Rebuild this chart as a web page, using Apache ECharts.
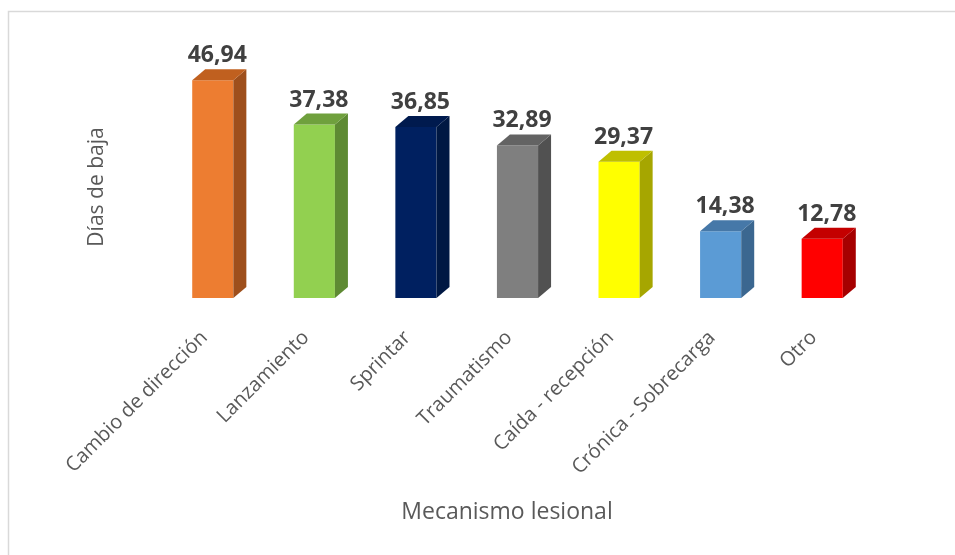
<!DOCTYPE html>
<html>
<head>
<meta charset="utf-8">
<script src="https://cdn.jsdelivr.net/npm/echarts@6/dist/echarts.min.js"></script>
<style>html,body{margin:0;padding:0;background:#fff;}#c{width:955px;height:555px;}</style>
</head>
<body>
<div id="c"></div>
<script>
var categories = ['Cambio de dirección', 'Lanzamiento', 'Sprintar', 'Traumatismo', 'Caída - recepción', 'Crónica - Sobrecarga', 'Otro'];
var values = [46.94, 37.38, 36.85, 32.89, 29.37, 14.38, 12.78];
var labels = ['46,94', '37,38', '36,85', '32,89', '29,37', '14,38', '12,78'];

var frontColors = ['#ED7D31', '#92D050', '#002060', '#7F7F7F', '#FFFF00', '#5B9BD5', '#FF0000'];
var sideColors  = ['#9E4F1C', '#5E8A33', '#001843', '#515151', '#A6A600', '#3B6790', '#A60000'];
var topColors   = ['#C0601F', '#6FA03D', '#001A4E', '#636363', '#BFBF00', '#4678A8', '#C40000'];

var FONT = '"Open Sans", "Noto Sans", sans-serif';
var chart = echarts.init(document.getElementById('c'), null, {renderer: 'canvas'});

function renderBar(params, api) {
  var i = api.value(0);
  var v = api.value(1);
  var top = api.coord([i, v]);
  var base = api.coord([i, 0]);
  var band = api.size([1, 0])[0];
  var w = band * 0.405;
  var dx = 13, dy = 11;
  var x0 = top[0] - w / 2, x1 = top[0] + w / 2;
  var yt = top[1], yb = base[1];
  return {
    type: 'group',
    children: [
      {type: 'rect', shape: {x: x0, y: yt, width: w, height: yb - yt}, style: {fill: frontColors[i]}},
      {type: 'polygon', shape: {points: [[x1, yt], [x1 + dx, yt - dy], [x1 + dx, yb - dy], [x1, yb]]}, style: {fill: sideColors[i]}},
      {type: 'polygon', shape: {points: [[x0, yt], [x0 + dx, yt - dy], [x1 + dx, yt - dy], [x1, yt]]}, style: {fill: topColors[i]}},
      {type: 'text', x: top[0] + dx / 2 - 2, y: yt - dy - 2,
        style: {text: labels[i], fill: '#404040', font: 'bold 23px ' + FONT, textAlign: 'center', textVerticalAlign: 'bottom'}}
    ]
  };
}

chart.setOption({
  animation: false,
  backgroundColor: '#fff',
  grid: {left: 162, width: 711, top: 66, height: 232},
  xAxis: {
    type: 'category',
    data: categories,
    axisLine: {show: false},
    axisTick: {show: false},
    axisLabel: {rotate: 45, interval: 0, margin: 28, padding: [0, 12, 0, 0], color: '#595959', fontSize: 20, fontFamily: FONT}
  },
  yAxis: {
    type: 'value', min: 0, max: 50,
    axisLine: {show: false}, axisTick: {show: false}, axisLabel: {show: false}, splitLine: {show: false}
  },
  series: [{
    type: 'custom',
    renderItem: renderBar,
    data: values.map(function (v, i) { return [i, v]; }),
    clip: false
  }],
  graphic: [
    {type: 'rect', shape: {x: 8.5, y: 11.5, width: 960, height: 560}, style: {fill: 'none', stroke: '#D9D9D9', lineWidth: 1.5}},
    {type: 'text', x: 507, y: 512, style: {text: 'Mecanismo lesional', fill: '#595959', font: '23px ' + FONT, textAlign: 'center', textVerticalAlign: 'middle'}},
    {type: 'text', x: 97, y: 187, rotation: Math.PI / 2, style: {text: 'Días de baja', fill: '#595959', font: '21px ' + FONT, textAlign: 'center', textVerticalAlign: 'middle'}}
  ]
});
</script>
</body>
</html>
